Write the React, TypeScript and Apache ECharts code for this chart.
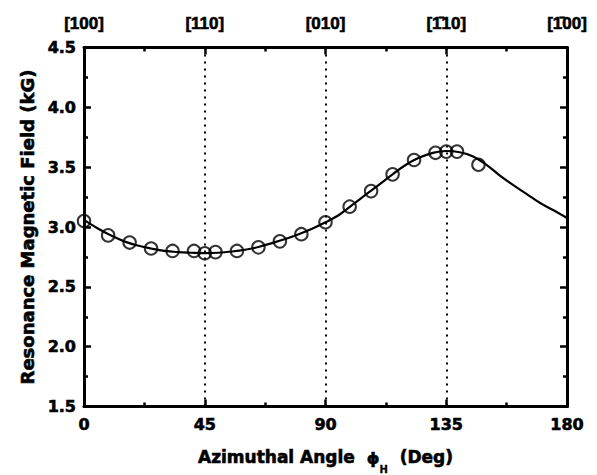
import React, { useEffect, useRef } from 'react';
import * as echarts from 'echarts';

const pointAngles = [0, 9, 17, 25, 33, 41, 45, 49, 57, 65, 73, 81, 90, 99, 107, 115, 123, 131, 135, 139, 147];
const pointFields = [3.05, 2.93, 2.87, 2.82, 2.80, 2.80, 2.78, 2.79, 2.80, 2.83, 2.88, 2.94, 3.04, 3.17, 3.30, 3.44, 3.56, 3.62, 3.63, 3.63, 3.52];

const curveAngles = [0, 5, 10, 15, 20, 25, 30, 35, 40, 45, 50, 55, 60, 65, 70, 75, 80, 85, 90, 95, 100, 105, 110, 115, 120, 125, 130, 135, 140, 145, 150, 155, 160, 165, 170, 175, 180];
const curveFields = [3.06, 2.99, 2.93, 2.88, 2.845, 2.82, 2.80, 2.79, 2.785, 2.782, 2.785, 2.795, 2.81, 2.833, 2.865, 2.90, 2.94, 2.985, 3.04, 3.10, 3.185, 3.27, 3.355, 3.44, 3.52, 3.58, 3.62, 3.635, 3.625, 3.59, 3.52, 3.43, 3.35, 3.275, 3.20, 3.14, 3.075];

const xTickValues = [0, 45, 90, 135, 180];
const directionLabels = ['[100]', '[110]', '[010]', '[1\u030410]', '[1\u030400]'];
const dottedAngles = [45, 90, 135];
const yTickLabels = ['1.5', '2.0', '2.5', '3.0', '3.5', '4.0', '4.5'];

const FONT_TOP = '"Liberation Sans", Arial, sans-serif';
const FONT = '"DejaVu Sans", sans-serif';
const heavy = { textBorderColor: '#000', textBorderWidth: 0.6 };

export default function App() {
  const ref = useRef<HTMLDivElement>(null);
  useEffect(() => {
    if (!ref.current) return;
    const chart = echarts.init(ref.current, undefined, { renderer: 'svg' });
    const axisLine = { show: true, onZero: false, lineStyle: { color: '#000', width: 3 } };
    const axisTick = { show: true, inside: true, length: 7, lineStyle: { color: '#000', width: 2.5 } };
    const minorTick = { show: true, splitNumber: 2, length: 4, lineStyle: { color: '#000', width: 2.5 } };
    const labelStyle = { color: '#000', fontFamily: FONT, fontWeight: 'bold' as const, fontSize: 16, ...heavy };
    chart.setOption({
      animation: false,
      backgroundColor: '#fff',
      grid: { left: 84, right: 30, top: 47.5, bottom: 68.5, containLabel: false, outerBoundsMode: 'none' },
      xAxis: [
        {
          type: 'value', min: 0, max: 180, interval: 45, position: 'bottom',
          axisLine, axisTick, minorTick, splitLine: { show: false },
          axisLabel: { ...labelStyle, margin: 10, formatter: (v: number) => (xTickValues.includes(v) ? String(v) : '') },
          name: '{t|Azimuthal Angle  }{p|\u03D5}{s|H}{t|  (Deg)}',
          nameLocation: 'middle', nameGap: 32,
          nameTextStyle: {
            rich: {
              t: { fontFamily: FONT, fontWeight: 'bold', fontSize: 17, color: '#000', lineHeight: 36, verticalAlign: 'middle', ...heavy },
              p: { fontFamily: FONT, fontWeight: 'bold', fontSize: 16, color: '#000', lineHeight: 36, verticalAlign: 'middle', padding: [4, 0, 0, 0], ...heavy },
              s: { fontFamily: FONT, fontWeight: 'bold', fontSize: 10, color: '#000', lineHeight: 12, verticalAlign: 'bottom', textBorderColor: '#000', textBorderWidth: 0.3 },
            },
          },
        },
        {
          type: 'value', min: 0, max: 180, interval: 45, position: 'top',
          axisLine, axisTick, minorTick, splitLine: { show: false },
          axisLabel: { ...labelStyle, fontFamily: FONT_TOP, fontSize: 17, margin: 16, formatter: (v: number) => directionLabels[xTickValues.indexOf(v)] ?? '' },
        },
      ],
      yAxis: [
        {
          type: 'value', min: 1.5, max: 4.5, interval: 0.5, position: 'left',
          axisLine, axisTick, minorTick, splitLine: { show: false },
          axisLabel: { ...labelStyle, margin: 8, formatter: (v: number) => yTickLabels[Math.round((v - 1.5) / 0.5)] ?? '' },
          name: 'Resonance Magnetic Field (kG)', nameLocation: 'middle', nameGap: 47,
          nameTextStyle: { fontFamily: FONT, fontWeight: 'bold', fontSize: 18, color: '#000', ...heavy },
        },
        {
          type: 'value', min: 1.5, max: 4.5, interval: 0.5, position: 'right',
          axisLine, axisTick, minorTick, splitLine: { show: false },
          axisLabel: { show: false },
        },
      ],
      series: [
        {
          type: 'line', xAxisIndex: 0, yAxisIndex: 0,
          data: curveAngles.map((a, i) => [a, curveFields[i]]),
          smooth: 0.4, showSymbol: false, symbol: 'none',
          lineStyle: { color: '#000', width: 2.2 },
          markLine: {
            silent: true, symbol: ['none', 'none'], label: { show: false },
            lineStyle: { color: '#000', width: 2, type: [2, 5] },
            data: dottedAngles.map((a) => ({ xAxis: a })),
          },
          z: 2,
        },
        {
          type: 'scatter', xAxisIndex: 0, yAxisIndex: 0,
          data: pointAngles.map((a, i) => [a, pointFields[i]]),
          symbol: 'circle', symbolSize: 12.5,
          itemStyle: { color: 'rgba(0,0,0,0)', borderColor: '#000', borderWidth: 2 },
          z: 3,
        },
      ],
    });
    return () => chart.dispose();
  }, []);
  return <div ref={ref} style={{ position: 'fixed', left: 0, top: 0, width: 597, height: 475 }} />;
}
